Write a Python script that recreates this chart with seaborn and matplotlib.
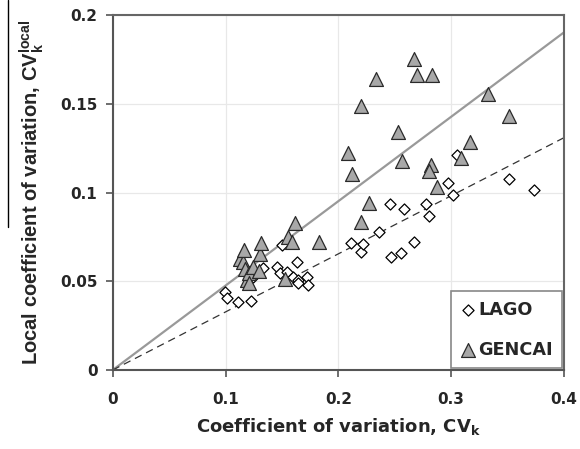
import matplotlib
matplotlib.use("Agg")
import matplotlib.pyplot as plt
import seaborn as sns
import pandas as pd
from matplotlib.lines import Line2D

# ---- data ----
lago_x = [0.0996, 0.1010, 0.1113, 0.1223, 0.1246, 0.1335, 0.1454, 0.1483, 0.1498, 0.1543,
          0.1601, 0.1631, 0.1646, 0.1646, 0.1720, 0.1734, 0.2110, 0.2198, 0.2222, 0.2364,
          0.2458, 0.2464, 0.2553, 0.2580, 0.2671, 0.2778, 0.2807, 0.2975, 0.3020, 0.3055,
          0.3510, 0.3730]
lago_y = [0.0442, 0.0404, 0.0385, 0.0391, 0.0523, 0.0574, 0.0579, 0.0545, 0.0705, 0.0555,
          0.0526, 0.0611, 0.0508, 0.0489, 0.0526, 0.0479, 0.0718, 0.0667, 0.0711, 0.0780,
          0.0934, 0.0639, 0.0658, 0.0906, 0.0724, 0.0936, 0.0869, 0.1056, 0.0987, 0.1210,
          0.1075, 0.1015]

gencai_x = [0.1129, 0.1158, 0.1167, 0.1173, 0.1188, 0.1211, 0.1211, 0.1247, 0.1300, 0.1306,
            0.1312, 0.1527, 0.1557, 0.1587, 0.1616, 0.1826, 0.2083, 0.2119, 0.2198, 0.2201,
            0.2275, 0.2334, 0.2527, 0.2567, 0.2674, 0.2700, 0.2833, 0.2825, 0.2807, 0.2870,
            0.3090, 0.3168, 0.3330, 0.3516]
gencai_y = [0.0626, 0.0611, 0.0677, 0.0568, 0.0508, 0.0549, 0.0489, 0.0579, 0.0560, 0.0654,
            0.0718, 0.0512, 0.0752, 0.0724, 0.0831, 0.0724, 0.1222, 0.1105, 0.0837, 0.1489,
            0.0940, 0.1640, 0.1344, 0.1180, 0.1753, 0.1664, 0.1664, 0.1158, 0.1124, 0.1034,
            0.1194, 0.1286, 0.1557, 0.1431]

# fitted lines through origin (slopes)
line_x = [0.0, 0.4]
gencai_slope = 0.476
lago_slope = 0.3275

x_ticks = [0, 0.1, 0.2, 0.3, 0.4]
x_labels = ["0", "0.1", "0.2", "0.3", "0.4"]
y_ticks = [0, 0.05, 0.1, 0.15, 0.2]
y_labels = ["0", "0.05", "0.1", "0.15", "0.2"]

# ---- style ----
sns.set_style("white")
plt.rcParams["font.family"] = ["DejaVu Sans"]
plt.rcParams["font.weight"] = "bold"
plt.rcParams["mathtext.fontset"] = "custom"
plt.rcParams["mathtext.rm"] = "DejaVu Sans:bold"
plt.rcParams["mathtext.it"] = "DejaVu Sans:bold"
plt.rcParams["mathtext.bf"] = "DejaVu Sans:bold"

fig = plt.figure(figsize=(5.8, 4.49), dpi=100)
ax = fig.add_axes([0.1943, 0.1759, 0.7781, 0.79])

lago_df = pd.DataFrame({"x": lago_x, "y": lago_y})
gencai_df = pd.DataFrame({"x": gencai_x, "y": gencai_y})
solid_df = pd.DataFrame({"x": line_x, "y": [v * gencai_slope for v in line_x]})
dash_df = pd.DataFrame({"x": line_x, "y": [v * lago_slope for v in line_x]})

sns.lineplot(data=solid_df, x="x", y="y", ax=ax, color="#999999", lw=1.6, zorder=2)
sns.lineplot(data=dash_df, x="x", y="y", ax=ax, color="#333333", lw=0.9,
             linestyle=(0, (6, 4)), zorder=2)

sns.scatterplot(data=lago_df, x="x", y="y", ax=ax, marker="D", s=32,
                facecolor="white", edgecolor="black", linewidth=0.9, zorder=3,
                label="LAGO")
sns.scatterplot(data=gencai_df, x="x", y="y", ax=ax, marker="^", s=100,
                color="#a8a8a8", edgecolor="#2a2a2a", linewidth=0.9, zorder=4,
                label="GENCAI")

ax.set_xlim(0, 0.4)
ax.set_ylim(0, 0.2)
ax.set_xticks(x_ticks)
ax.set_xticklabels(x_labels)
ax.set_yticks(y_ticks)
ax.set_yticklabels(y_labels)
ax.grid(True, color="#e8e8e8", lw=0.9)
ax.set_axisbelow(True)

for sp in ["left", "bottom"]:
    ax.spines[sp].set_color("#555555")
    ax.spines[sp].set_linewidth(1.5)
for sp in ["top", "right"]:
    ax.spines[sp].set_color("#666666")
    ax.spines[sp].set_linewidth(1.5)

ax.tick_params(axis="both", which="major", direction="out", length=5, width=1.2,
               color="#555555", labelsize=11, pad=6, bottom=True, left=True)
for lab in ax.get_xticklabels() + ax.get_yticklabels():
    lab.set_fontweight("bold")
ax.tick_params(axis="x", pad=11)

ax.set_xlabel(r"Coefficient of variation, CV$_\mathregular{k}$", fontsize=13,
              fontweight="bold", labelpad=6)
ax.set_ylabel(r"Local coefficient of variation, CV$_\mathdefault{k}^\mathdefault{local}$",
              fontsize=14.5, fontweight="bold", labelpad=10,
              family=["Liberation Sans", "DejaVu Sans"])

# overline of the y label
fig.add_artist(Line2D([8 / 580, 8 / 580], [1.0, 1 - 227 / 449], transform=fig.transFigure,
                      color="black", lw=1.0))

leg = ax.legend(loc="lower right", frameon=True, fancybox=False, framealpha=1,
                edgecolor="#888888", prop={"weight": "bold", "size": 12.7},
                borderaxespad=0.1, handletextpad=0.15, handlelength=0.8,
                labelspacing=1.25, borderpad=0.55)
leg.get_frame().set_linewidth(1.2)

fig.savefig("out.png", dpi=100)
